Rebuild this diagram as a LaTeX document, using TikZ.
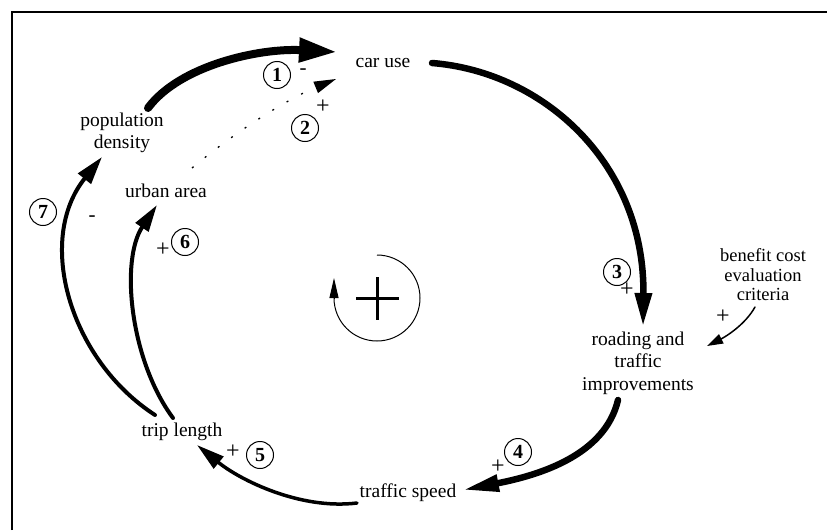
\documentclass[tikz,border=0pt]{standalone}
\usepackage{fontspec}
\setmainfont{Liberation Serif}
\usetikzlibrary{arrows.meta,calc}
\tikzset{
  lbl/.style={inner sep=0pt, font=\fontsize{19.5}{22.5}\selectfont, align=center},
  lblsm/.style={inner sep=0pt, font=\fontsize{18.5}{19.5}\selectfont, align=center},
  num/.style={circle, draw, line width=1pt, inner sep=0pt, minimum size=27pt, font=\fontsize{20}{20}\selectfont\bfseries},
  sgn/.style={inner sep=0pt, font=\fontsize{24}{24}\selectfont},
  msgn/.style={inner sep=0pt, font=\fontsize{21}{21}\selectfont},
  link/.style={line cap=round},
}
\begin{document}
\begin{tikzpicture}[x=1pt,y=-1pt]
\useasboundingbox (0,0) rectangle (827,530);
\draw[line width=1.7pt] (12,530) -- (12,12) -- (827,12);

% variables
\node[lbl, anchor=base] (cu) at (383,67) {car use};
\node[lbl] (pd) at (122,133) {population\\density};
\node[lbl, anchor=base] (ua) at (166,197) {urban area};
\node[lbl, anchor=base] (tl) at (182,436) {trip length};
\node[lbl, anchor=base] (ts) at (408,497) {traffic speed};
\node[lbl] (rti) at (638,363) {roading and\\traffic\\improvements};
\node[lblsm] (bce) at (763,275) {benefit cost\\evaluation\\criteria};

% links
\draw[link, line width=8pt, -{Triangle[length=38pt,width=23pt]}]
  ($(pd)+(26,-25)$) .. controls (180,65) and (260,48) .. ($(cu.base)+(-46,-15)$);
\draw[line width=1.3pt, dash pattern=on 2pt off 14.5pt, -{Triangle[length=22pt,width=12pt]}]
  ($(ua.base)+(26,-29)$) .. controls (240,128) and (290,98) .. ($(cu.base)+(-47,12)$);
\draw[link, line width=6.5pt, -{Triangle[length=34pt,width=16pt]}]
  ($(cu.base)+(49,-4)$) .. controls (545,72) and (645,165) .. ($(rti)+(5,-36)$);
\draw[link, line width=6.5pt, -{Triangle[length=36pt,width=16pt]}]
  ($(rti)+(-20,37)$) .. controls (605,455) and (540,475) .. ($(ts.base)+(55,-7)$);
\draw[link, line width=3.5pt, -{Triangle[length=28pt,width=15pt]}]
  ($(ts.base)+(-51,6)$) .. controls (300,510) and (240,480) .. ($(tl.base)+(15,9)$);
\draw[link, line width=4pt, -{Triangle[length=27pt,width=15pt]}]
  ($(tl.base)+(-9,-18)$) .. controls (130,360) and (120,260) .. ($(ua.base)+(-9,8)$);
\draw[link, line width=4pt, -{Triangle[length=28pt,width=16pt]}]
  ($(tl.base)+(-27,-21)$) .. controls (70,360) and (35,240) .. ($(pd)+(-20,24)$);
\draw[link, line width=1.5pt, -{Triangle[length=16pt,width=10pt]}]
  ($(bce)+(-8,32)$) .. controls (745,325) and (725,337) .. ($(rti)+(69,-17)$);

% circled numbers and signs
\node[num] (n1) at (277,75) {1};
\node[msgn] (s1) at (303,72) {-};
\node[num] (n2) at (305,128) {2};
\node[sgn] (s2) at (323,107) {+};
\node[num] (n3) at (617,272) {3};
\node[sgn] (s3) at (627,290) {+};
\node[num] (n4) at (518,452) {4};
\node[sgn] (s4) at (498,467) {+};
\node[num] (n5) at (260,455) {5};
\node[sgn] (s5) at (233,452) {+};
\node[num] (n6) at (185,242) {6};
\node[sgn] (s6) at (163,250) {+};
\node[num] (n7) at (43,212) {7};
\node[msgn] (s7) at (92,219) {-};
\node[sgn] (sb) at (723,317) {+};

% loop polarity symbol
\draw[line width=1pt] (377,255) arc[start angle=-90, end angle=180, radius=43]
  coordinate (lp);
\draw[line width=1pt, -{Triangle[length=20pt,width=9pt]}] (lp) -- ++(0,-20);
\draw[line width=3pt] (356,298) -- (399,298);
\draw[line width=3pt] (377,277) -- (377,320);
\end{tikzpicture}
\end{document}
